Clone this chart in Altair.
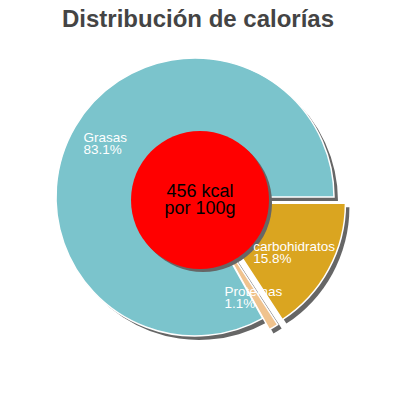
import math
import altair as alt
import pandas as pd

# ---- data ----
title_text = "Distribución de calorías"
categories = ["carbohidratos", "Proteínas", "Grasas"]
percents = [15.8, 1.1, 83.1]
center_lines = ["456 kcal", "por 100g"]

# ---- styles ----
slice_colors = ["#daa520", "#f0c38e", "#7bc4cc"]
explode_px = {"carbohidratos": 13, "Proteínas": 13, "Grasas": 0}
PIE_R = 139
HOLE_R = 69
HOLE_DX, HOLE_DY = 5, 3
LABEL_R = 105
LABEL_DY = -6
SHADOW = 4
CHAR_W = 7.0

df = pd.DataFrame({
    "category": categories,
    "percent": percents,
    "order": list(range(len(categories))),
})
df["label"] = [f"{c}\n{p:.1f}%" for c, p in zip(categories, percents)]
df["explode"] = df["category"].map(explode_px)
df["chars"] = [max(len(c), len(f"{p:.1f}%")) for c, p in zip(categories, percents)]

theta_scale = alt.Scale(domain=[0, 100], range=[math.pi / 2, math.pi / 2 + 2 * math.pi])

base = alt.Chart(df).transform_window(
    cum="sum(percent)", sort=[{"field": "order"}], frame=[None, 0]
).transform_calculate(
    start="datum.cum - datum.percent",
    mid="datum.cum - datum.percent / 2",
).transform_calculate(
    ang="PI / 2 + 2 * PI * datum.mid / 100",
).transform_calculate(
    ex="datum.explode * sin(datum.ang)",
    ey="-datum.explode * cos(datum.ang)",
).transform_calculate(
    sx=f"datum.ex + {SHADOW}",
    sy=f"datum.ey + {SHADOW}",
    lx=f"datum.ex - datum.chars * {CHAR_W} / 2",
    ly=f"datum.ey + {LABEL_DY}",
)

shadow = base.mark_arc(radius=PIE_R, color="#666666").encode(
    theta=alt.Theta("start:Q", scale=theta_scale),
    theta2="cum:Q",
    xOffset=alt.XOffset("sx:Q", scale=None),
    yOffset=alt.YOffset("sy:Q", scale=None),
)

slices = base.mark_arc(radius=PIE_R, stroke="white", strokeWidth=1.5).encode(
    theta=alt.Theta("start:Q", scale=theta_scale),
    theta2="cum:Q",
    color=alt.Color("category:N", scale=alt.Scale(domain=categories, range=slice_colors), legend=None),
    xOffset=alt.XOffset("ex:Q", scale=None),
    yOffset=alt.YOffset("ey:Q", scale=None),
)

labels = base.mark_text(
    radius=LABEL_R, align="left", baseline="middle", fontSize=13.5,
    font="Liberation Sans", color="white", lineBreak="\n", lineHeight=12,
).encode(
    theta=alt.Theta("mid:Q", scale=theta_scale),
    text="label:N",
    xOffset=alt.XOffset("lx:Q", scale=None),
    yOffset=alt.YOffset("ly:Q", scale=None),
)

center_df = pd.DataFrame({"text": ["\n".join(center_lines)]})
cbase = alt.Chart(center_df)
hole_shadow = cbase.mark_arc(
    radius=HOLE_R, theta=0, theta2=2 * math.pi,
    xOffset=HOLE_DX + 3, yOffset=HOLE_DY + 3,
).encode(color=alt.value("#666666"))
hole = cbase.mark_arc(
    radius=HOLE_R, theta=0, theta2=2 * math.pi, xOffset=HOLE_DX, yOffset=HOLE_DY,
).encode(color=alt.value("#ff0000"))
hole_text = cbase.mark_text(
    fontSize=18, font="Liberation Sans", color="black", lineBreak="\n",
    lineHeight=17, baseline="middle", align="center",
    xOffset=HOLE_DX, yOffset=HOLE_DY - 8,
).encode(text="text:N")

chart = alt.layer(shadow, slices, hole_shadow, hole, hole_text, labels).properties(
    width=374,
    height=318,
    padding={"left": 0, "top": 0, "right": 0, "bottom": 0},
    title=alt.TitleParams(
        title_text, fontSize=24, font="Liberation Sans", fontWeight="bold",
        color="#444444", anchor="middle", dy=-2, dx=3,
    ),
).configure_view(stroke=None)

chart.save("out.html", embed_options={"renderer": "svg", "actions": False})
